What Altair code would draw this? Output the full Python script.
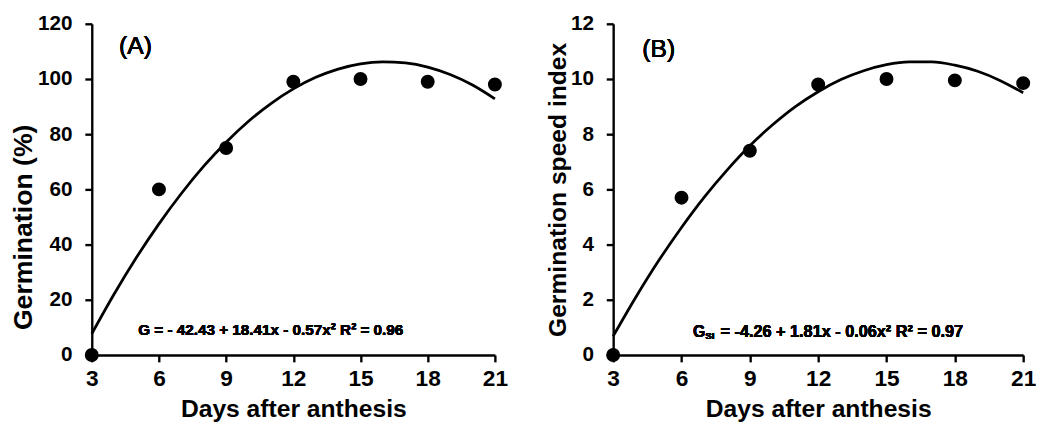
import altair as alt
import pandas as pd

# Observed data
days = [3, 6, 9, 12, 15, 18, 21]
germination = [0, 60, 75, 99, 100, 99, 98]
gsi = [0, 5.7, 7.4, 9.8, 10.0, 9.95, 9.85]

# Fitted curves at each day
curve_days = [3, 4, 5, 6, 7, 8, 9, 10, 11, 12, 13, 14, 15, 16, 17, 18, 19, 20, 21]
germ_curve = [7.7, 22.1, 35.4, 47.5, 58.5, 68.4, 77.1, 84.7, 91.1, 96.4, 100.6,
              103.6, 105.5, 106.2, 105.8, 104.3, 101.6, 97.8, 92.8]
gsi_curve = [0.68, 2.1, 3.42, 4.62, 5.72, 6.7, 7.58, 8.34, 9.0, 9.54, 9.98,
             10.3, 10.52, 10.62, 10.62, 10.5, 10.28, 9.94, 9.5]

x_ticks = [3, 6, 9, 12, 15, 18, 21]
y_ticks_a = [0, 20, 40, 60, 80, 100, 120]
y_ticks_b = [0, 2, 4, 6, 8, 10, 12]

FONT = "Liberation Sans"

pts_a = pd.DataFrame({"day": days, "val": germination})
pts_b = pd.DataFrame({"day": days, "val": gsi})
fit_a = pd.DataFrame({"day": curve_days, "val": germ_curve})
fit_b = pd.DataFrame({"day": curve_days, "val": gsi_curve})


def xenc():
    return alt.X("day:Q", scale=alt.Scale(domain=[3, 21], nice=False, zero=False),
                 axis=alt.Axis(values=x_ticks, title="Days after anthesis", labelFlush=False))


def panel(pts, fit, ydom, yticks, yaxis):
    yenc = alt.Y("val:Q", scale=alt.Scale(domain=ydom, nice=False), axis=yaxis)
    line = alt.Chart(fit).mark_line(color="black", strokeWidth=2.8, interpolate="monotone").encode(
        x=xenc(), y=yenc)
    dots = alt.Chart(pts).mark_circle(size=200, color="black", opacity=1).encode(
        x=xenc(), y=yenc)
    return line, dots


axis_a = alt.Axis(values=y_ticks_a, title="Germination (%)", titleFontSize=27, titleY=206)
axis_b = alt.Axis(values=y_ticks_b, title="Germination speed index", titleFontSize=25)

la, da = panel(pts_a, fit_a, [0, 120], y_ticks_a, axis_a)
lb, db = panel(pts_b, fit_b, [0, 12], y_ticks_b, axis_b)

lab_a = alt.Chart(pts_a).mark_text(text="(A)", fontSize=25, font=FONT, color="black").encode(
    x=alt.datum(4.95), y=alt.datum(111.8))
eq_a = alt.Chart(pts_a).mark_text(
    text="G = - 42.43 + 18.41x - 0.57x² R² = 0.96", fontSize=15.5, fontWeight="bold",
    font=FONT, color="black", align="left", baseline="middle").encode(
    x=alt.datum(5.07), y=alt.datum(8.9))

lab_b = alt.Chart(pts_b).mark_text(text="(B)", fontSize=25, font=FONT, color="black").encode(
    x=alt.datum(5.0), y=alt.datum(11.1))
eq_b1 = alt.Chart(pts_b).mark_text(
    text="G", fontSize=16, fontWeight="bold", font=FONT, color="black",
    align="left", baseline="middle").encode(x=alt.datum(6.5), y=alt.datum(0.83))
eq_b2 = alt.Chart(pts_b).mark_text(
    text="SI", fontSize=10, fontWeight="bold", font=FONT, color="black",
    align="left", baseline="middle", dx=12.5, dy=4).encode(x=alt.datum(6.5), y=alt.datum(0.83))
eq_b3 = alt.Chart(pts_b).mark_text(
    text="= -4.26 + 1.81x - 0.06x²  R² = 0.97", fontSize=16.5, fontWeight="bold",
    font=FONT, color="black", align="left", baseline="middle", dx=28).encode(
    x=alt.datum(6.5), y=alt.datum(0.83))

chart_a = alt.layer(la, da, lab_a, eq_a).properties(width=409, height=336)
chart_b = alt.layer(lb, db, lab_b, eq_b1, eq_b2, eq_b3).properties(width=416, height=336)

chart = alt.hconcat(chart_a, chart_b, spacing=38).properties(
    padding={"left": 1, "top": 2, "right": 0, "bottom": 0}
).configure_view(stroke=None).configure_axis(
    grid=False,
    domainColor="black", domainWidth=2.4,
    tickColor="black", tickWidth=2.4, tickSize=7,
    labelFont=FONT, labelFontWeight="bold", labelColor="black",
    titleFont=FONT, titleFontWeight="bold", titleFontSize=25, titleColor="black",
).configure_axisY(titlePadding=0, labelPadding=13, labelFontSize=21).configure_axisX(
    titlePadding=6, labelPadding=6, labelFontSize=23)

chart.save("out.html", embed_options={"renderer": "svg", "actions": False})
